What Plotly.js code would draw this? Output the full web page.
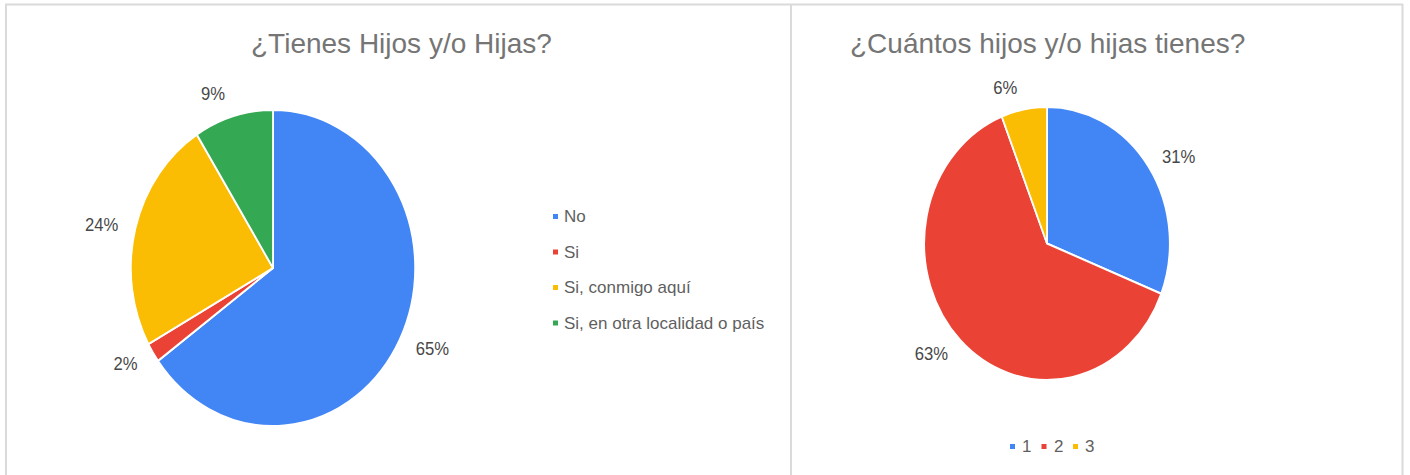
<!DOCTYPE html>
<html><head><meta charset="utf-8">
<script src="https://cdn.plot.ly/plotly-3.0.1.min.js"></script>
<style>
html,body{margin:0;padding:0;background:#fff;overflow:hidden;}
#wrap{position:relative;width:1410px;height:475px;overflow:hidden;}
#pies{position:absolute;left:0;top:0;width:1567px;height:475px;transform:scaleX(0.89981);transform-origin:0 0;}
#overlay{position:absolute;left:0;top:0;width:1410px;height:475px;pointer-events:none;}
</style></head><body>
<div id="wrap"><div id="pies"></div><div id="overlay"></div></div>
<script>
// ---- data ----
const tieneHijosCategorias = ['No', 'Si', 'Si, conmigo aquí', 'Si, en otra localidad o país'];
const tieneHijosValores = [65, 2, 24, 9];
const cuantosCategorias = ['1', '2', '3'];
const cuantosValores = [31, 63, 6];
const tituloIzq = '¿Tienes Hijos y/o Hijas?';
const tituloDer = '¿Cuántos hijos y/o hijas tienes?';

// ---- style ----
const PALETA = ['#4285F4', '#EA4335', '#FBBC04', '#34A853'];
const FONT = 'Liberation Sans, Arial, sans-serif';
const WA = 1567, W = 1410, H = 475, SX = W / WA;

function dom(cxScreen, cy, r) {
  const cx = cxScreen / SX;
  return {x: [(cx - r) / WA, (cx + r) / WA], y: [1 - (cy + r) / H, 1 - (cy - r) / H]};
}
function labelPie(values, labels, domain) {
  return {type: 'pie', values: values, labels: labels, sort: false, direction: 'clockwise', rotation: 0,
    domain: domain, textinfo: 'percent', textposition: 'outside',
    textfont: {family: FONT, size: 18.5, color: '#474747'},
    marker: {colors: labels.map(() => 'rgba(0,0,0,0)'), line: {width: 0}},
    showlegend: false, hoverinfo: 'skip'};
}
function realPie(values, labels, domain) {
  return {type: 'pie', values: values, labels: labels, sort: false, direction: 'clockwise', rotation: 0,
    domain: domain, textinfo: 'none',
    marker: {colors: PALETA.slice(0, labels.length), line: {color: '#ffffff', width: 2}},
    showlegend: false};
}

const piesData = [
  labelPie(tieneHijosValores, tieneHijosCategorias, dom(273, 268, 172)),
  realPie(tieneHijosValores, tieneHijosCategorias, dom(273, 268, 158)),
  labelPie(cuantosValores, cuantosCategorias, dom(1047, 243.5, 148)),
  realPie(cuantosValores, cuantosCategorias, dom(1047, 243.5, 136.5))
];
Plotly.newPlot('pies', piesData, {
  width: WA, height: H, margin: {l: 0, r: 0, t: 0, b: 0},
  paper_bgcolor: '#ffffff', showlegend: false, font: {family: FONT}
}, {displayModeBar: false, staticPlot: true});

// ---- overlay: titles, legends, frame ----
const px = x => x / W, py = y => 1 - y / H;
const ann = [];
ann.push({text: tituloIzq, x: px(401.5), y: py(44), xref: 'paper', yref: 'paper', xanchor: 'center', yanchor: 'middle',
  showarrow: false, font: {family: FONT, size: 28, color: '#757575'}});
ann.push({text: tituloDer, x: px(1047), y: py(44), xref: 'paper', yref: 'paper', xanchor: 'center', yanchor: 'middle',
  showarrow: false, font: {family: FONT, size: 28, color: '#757575'}});

const shapes = [];
const frame = {type: 'line', xref: 'paper', yref: 'paper', line: {color: '#dadada', width: 2}};
shapes.push(Object.assign({}, frame, {x0: px(5), x1: px(1403), y0: py(4.5), y1: py(4.5)}));
shapes.push(Object.assign({}, frame, {x0: px(6), x1: px(6), y0: py(4), y1: py(480)}));
shapes.push(Object.assign({}, frame, {x0: px(791), x1: px(791), y0: py(4), y1: py(480)}));
shapes.push(Object.assign({}, frame, {x0: px(1402.5), x1: px(1402.5), y0: py(4), y1: py(480)}));

// left legend (vertical)
tieneHijosCategorias.forEach((c, i) => {
  const yc = 216.5 + i * 35.5;
  ann.push({text: c, x: px(562), y: py(yc), xref: 'paper', yref: 'paper', xanchor: 'left', yanchor: 'middle',
    showarrow: false, font: {family: FONT, size: 17, color: '#5f5f5f'}});
  shapes.push({type: 'rect', xref: 'paper', yref: 'paper', x0: px(553), x1: px(558), y0: py(yc - 2.5), y1: py(yc + 2.5),
    fillcolor: PALETA[i], line: {width: 0}});
});
// right legend (horizontal)
cuantosCategorias.forEach((c, i) => {
  const xt = 1020 + i * 31.5, yc = 446.5;
  ann.push({text: c, x: px(xt), y: py(yc), xref: 'paper', yref: 'paper', xanchor: 'left', yanchor: 'middle',
    showarrow: false, font: {family: FONT, size: 17, color: '#5f5f5f'}});
  shapes.push({type: 'rect', xref: 'paper', yref: 'paper', x0: px(xt - 10), x1: px(xt - 5), y0: py(yc - 2.5), y1: py(yc + 2.5),
    fillcolor: PALETA[i], line: {width: 0}});
});

Plotly.newPlot('overlay', [], {
  width: W, height: H, margin: {l: 0, r: 0, t: 0, b: 0},
  paper_bgcolor: 'rgba(0,0,0,0)', plot_bgcolor: 'rgba(0,0,0,0)',
  xaxis: {visible: false}, yaxis: {visible: false},
  annotations: ann, shapes: shapes, font: {family: FONT}
}, {displayModeBar: false, staticPlot: true});
</script>
</body></html>
